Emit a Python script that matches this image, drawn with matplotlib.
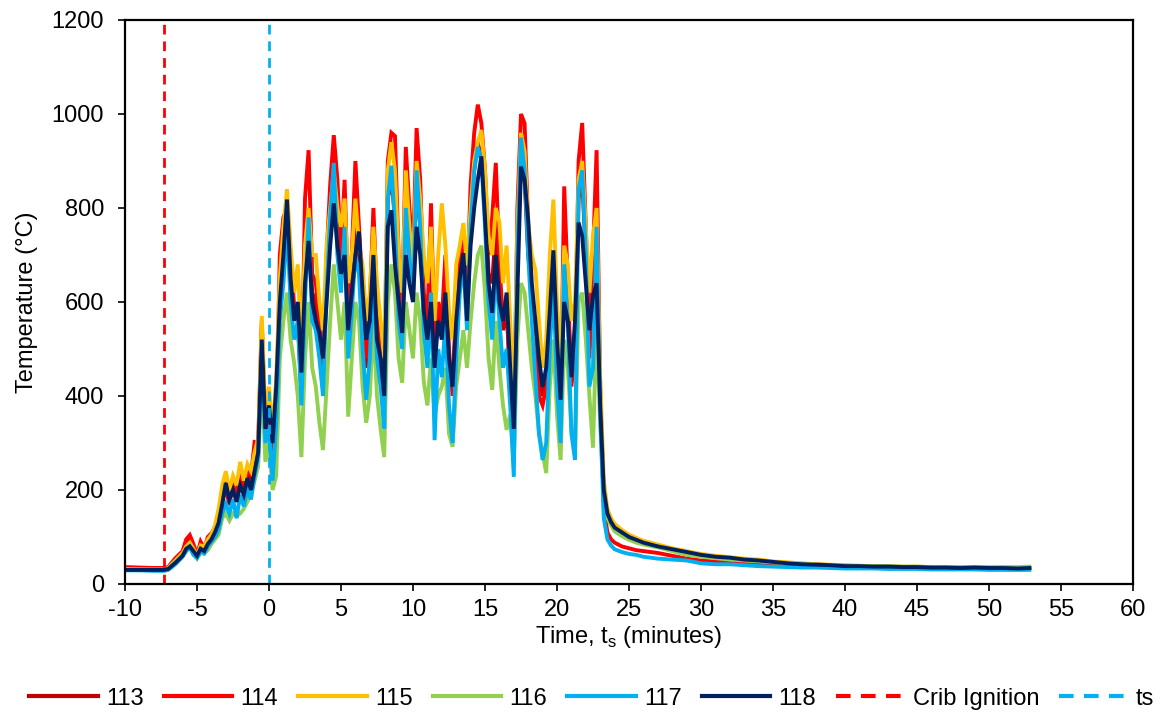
import matplotlib
matplotlib.use("Agg")
import matplotlib.pyplot as plt

plt.rcParams['font.family'] = ['Liberation Sans', 'DejaVu Sans']
plt.rcParams['mathtext.fontset'] = 'custom'
plt.rcParams['mathtext.rm'] = 'Liberation Sans'

# ---- time grid (minutes) ----
time = [
    -10, -9, -8, -7.3, -7, -6.5, -6, -5.75, -5.5,
    -5.25, -5, -4.75, -4.5, -4.25, -4, -3.75, -3.5, -3.25,
    -3, -2.75, -2.5, -2.25, -2, -1.75, -1.5, -1.25, -1,
    -0.75, -0.5, -0.25, 0, 0.25, 0.5, 0.75, 1.0,
    1.25, 1.5, 1.75, 2.0, 2.25, 2.5, 2.75, 3.0,
    3.25, 3.5, 3.75, 4.0, 4.25, 4.5, 4.75, 5.0,
    5.25, 5.5, 5.75, 6.0, 6.25, 6.5, 6.75, 7.0,
    7.25, 7.5, 7.75, 8.0, 8.25, 8.5, 8.75, 9.0,
    9.25, 9.5, 9.75, 10.0, 10.25, 10.5, 10.75, 11.0,
    11.25, 11.5, 11.75, 12.0, 12.25, 12.5, 12.75, 13.0,
    13.25, 13.5, 13.75, 14.0, 14.25, 14.5, 14.75, 15.0,
    15.25, 15.5, 15.75, 16.0, 16.25, 16.5, 16.75, 17.0,
    17.25, 17.5, 17.75, 18.0, 18.25, 18.5, 18.75, 19.0,
    19.25, 19.5, 19.75, 20.0, 20.25, 20.5, 20.75, 21.0,
    21.25, 21.5, 21.75, 22.0, 22.25, 22.5, 22.75, 23.0,
    23.25, 23.5, 23.75, 24, 24.5, 25, 25.5, 26,
    27, 28, 29, 30, 31, 32, 33, 34, 35,
    36, 37, 38, 39, 40, 41, 42, 43, 44,
    45, 46, 47, 48, 49, 50, 51, 52, 52.8,
]

t113 = [
    34, 34, 33, 33, 34, 50, 65, 85, 95,
    78, 60, 82, 72, 92, 100, 115, 135, 175,
    205, 180, 205, 185, 225, 195, 240, 215, 260,
    290, 540, 340, 350, 270, 380, 620, 680,
    790, 640, 580, 580, 430, 700, 760, 620,
    600, 520, 450, 640, 780, 900, 760, 680,
    780, 560, 640, 780, 700, 560, 460, 560,
    720, 560, 460, 380, 820, 860, 780, 640,
    560, 800, 700, 640, 860, 760, 600, 540,
    680, 500, 580, 540, 640, 460, 420, 580,
    660, 720, 600, 780, 880, 940, 900, 820,
    660, 640, 760, 620, 540, 580, 440, 320,
    700, 900, 860, 700, 620, 540, 460, 400,
    440, 580, 680, 500, 380, 700, 600, 430,
    520, 820, 860, 700, 500, 640, 760, 400,
    190, 145, 128, 118, 108, 98, 92, 86,
    80, 72, 66, 62, 58, 54, 52, 50, 47,
    45, 43, 42, 40, 39, 38, 38, 37, 36,
    36, 35, 35, 35, 35, 34, 34, 34, 34,
]

t114 = [
    36, 35, 34, 34, 36, 55, 70, 95, 104,
    85, 62, 90, 75, 100, 108, 120, 140, 183,
    200, 170, 210, 190, 240, 200, 250, 230, 302,
    300, 560, 320, 360, 250, 330, 700, 780,
    800, 700, 590, 560, 400, 820, 923, 660,
    640, 560, 420, 700, 850, 955, 860, 700,
    860, 600, 700, 900, 760, 620, 480, 600,
    800, 600, 500, 420, 900, 960, 953, 700,
    600, 930, 800, 700, 970, 860, 620, 560,
    810, 520, 600, 560, 700, 500, 400, 600,
    700, 740, 620, 850, 960, 1020, 980, 880,
    700, 780, 896, 680, 560, 600, 420, 300,
    800, 1000, 980, 760, 600, 520, 400, 380,
    420, 600, 700, 480, 360, 846, 640, 420,
    500, 900, 981, 760, 480, 700, 923, 420,
    160, 110, 95, 88, 80, 76, 72, 70,
    66, 60, 54, 50, 48, 46, 46, 44, 44,
    42, 42, 40, 39, 38, 37, 37, 36, 36,
    35, 35, 34, 34, 35, 34, 33, 33, 33,
]

t115 = [
    32, 31, 31, 31, 34, 50, 66, 80, 88,
    75, 60, 82, 80, 95, 105, 125, 160, 210,
    240, 200, 230, 210, 260, 220, 255, 240, 280,
    310, 570, 360, 420, 320, 440, 650, 760,
    840, 720, 620, 680, 500, 720, 800, 700,
    700, 600, 540, 720, 800, 880, 800, 760,
    820, 640, 700, 820, 720, 680, 560, 620,
    760, 640, 560, 480, 880, 940, 880, 700,
    620, 880, 760, 680, 900, 820, 700, 640,
    760, 560, 700, 810, 720, 580, 520, 680,
    720, 768, 678, 800, 900, 940, 966, 880,
    740, 700, 800, 770, 640, 720, 560, 380,
    760, 960, 920, 768, 700, 668, 560, 460,
    520, 700, 818, 600, 480, 720, 680, 560,
    600, 860, 900, 760, 620, 740, 800, 440,
    220, 160, 140, 128, 115, 105, 98, 92,
    84, 76, 70, 64, 60, 57, 54, 52, 48,
    46, 44, 42, 41, 40, 39, 38, 38, 37,
    37, 36, 36, 35, 35, 35, 35, 34, 35,
]

t116 = [
    31, 31, 30, 30, 33, 48, 62, 75, 82,
    68, 55, 65, 65, 72, 85, 95, 105, 140,
    150, 135, 150, 145, 150, 160, 175, 190, 220,
    250, 440, 260, 300, 200, 230, 480, 560,
    620, 520, 470, 400, 270, 480, 600, 460,
    420, 343, 285, 420, 560, 680, 600, 520,
    600, 356, 480, 600, 560, 420, 343, 400,
    560, 400, 330, 270, 600, 680, 620, 480,
    428, 600, 540, 480, 620, 560, 430, 380,
    480, 360, 400, 420, 460, 320, 292, 420,
    480, 540, 460, 560, 640, 700, 720, 620,
    480, 413, 560, 460, 380, 328, 360, 260,
    520, 640, 620, 540, 460, 400, 320, 280,
    236, 420, 520, 360, 264, 520, 460, 330,
    280, 600, 620, 520, 400, 290, 560, 340,
    190, 140, 125, 112, 102, 94, 88, 84,
    78, 70, 62, 58, 55, 52, 50, 48, 46,
    44, 42, 41, 40, 39, 38, 38, 38, 37,
    37, 36, 36, 36, 36, 36, 36, 36, 37,
]

t117 = [
    29, 29, 28, 28, 30, 42, 58, 70, 78,
    62, 55, 70, 65, 80, 90, 100, 115, 150,
    170, 150, 180, 140, 190, 165, 200, 180, 230,
    270, 500, 300, 330, 220, 340, 560, 640,
    760, 600, 520, 560, 380, 600, 780, 560,
    540, 480, 400, 620, 780, 896, 700, 620,
    760, 480, 580, 700, 660, 500, 392, 480,
    660, 480, 420, 330, 820, 890, 760, 560,
    500, 800, 700, 600, 880, 760, 540, 460,
    620, 306, 500, 440, 560, 380, 300, 480,
    620, 680, 540, 760, 880, 930, 900, 760,
    600, 520, 680, 560, 460, 500, 380, 228,
    700, 950, 880, 700, 560, 440, 320, 264,
    300, 500, 640, 420, 300, 680, 560, 320,
    264, 840, 880, 700, 420, 460, 760, 360,
    140, 95, 82, 74, 68, 64, 62, 58,
    54, 52, 50, 44, 42, 42, 40, 38, 37,
    36, 35, 35, 34, 33, 33, 33, 32, 32,
    32, 31, 31, 31, 31, 30, 30, 30, 30,
]

t118 = [
    30, 30, 30, 30, 32, 45, 60, 75, 80,
    70, 60, 75, 70, 85, 95, 110, 130, 170,
    215, 180, 200, 175, 210, 190, 225, 200, 240,
    280, 520, 330, 380, 300, 420, 600, 700,
    818, 650, 560, 600, 450, 640, 730, 600,
    560, 534, 480, 600, 720, 810, 720, 660,
    700, 540, 620, 700, 750, 620, 520, 560,
    700, 520, 480, 400, 760, 795, 680, 600,
    534, 700, 640, 600, 760, 700, 580, 520,
    600, 460, 560, 520, 620, 480, 420, 560,
    650, 704, 560, 720, 800, 860, 910, 780,
    640, 577, 700, 600, 560, 620, 460, 330,
    620, 888, 860, 775, 640, 560, 480, 420,
    460, 580, 710, 520, 392, 600, 560, 440,
    560, 769, 740, 640, 540, 612, 640, 380,
    200, 150, 132, 120, 110, 100, 94, 88,
    80, 74, 68, 62, 58, 56, 52, 50, 47,
    44, 42, 41, 40, 38, 38, 37, 37, 36,
    36, 35, 35, 34, 35, 34, 34, 33, 34,
]

series_names = ["113", "114", "115", "116", "117", "118"]
series_data = [t113, t114, t115, t116, t117, t118]
series_colors = ["#C00000", "#FF0000", "#FFC000", "#92D050", "#00B0F0", "#002060"]

crib_ignition_time = -7.3
ts_time = 0.0

x_ticks = [-10, -5, 0, 5, 10, 15, 20, 25, 30, 35, 40, 45, 50, 55, 60]
y_ticks = [0, 200, 400, 600, 800, 1000, 1200]

fig = plt.figure(figsize=(11.72, 7.13), dpi=100)
ax = fig.add_axes([125/1172, 1 - 584/713, (1133 - 125)/1172, (584 - 20)/713])

for name, vals, col in zip(series_names, series_data, series_colors):
    ax.plot(time, vals, color=col, lw=2.8, label=name, solid_joinstyle='miter')

ax.axvline(crib_ignition_time, color="#FF0000", lw=2.0, ls=(0, (3.5, 2.5)), label="Crib Ignition")
ax.axvline(ts_time, color="#00B0F0", lw=2.0, ls=(0, (3.5, 2.5)), label="ts")

ax.set_xlim(-10, 60)
ax.set_ylim(0, 1200)
ax.set_xticks(x_ticks)
ax.set_xticklabels([str(v) for v in x_ticks])
ax.set_yticks(y_ticks)
ax.set_yticklabels([str(v) for v in y_ticks])

for s in ax.spines.values():
    s.set_linewidth(1.6)
    s.set_color("black")
ax.tick_params(axis='both', direction='out', length=5, width=1.2, labelsize=17, colors='black')
ax.tick_params(axis='x', pad=6)
ax.tick_params(axis='y', pad=10)

ax.set_xlabel("Time, t$_\\mathregular{s}$ (minutes)", fontsize=17, labelpad=2)
ax.set_ylabel("Temperature (°C)", fontsize=17, labelpad=10)

handles, labels = ax.get_legend_handles_labels()
leg = fig.legend(handles, labels, loc='lower center', bbox_to_anchor=(0.505, -0.025), ncol=8,
                 frameon=False, fontsize=17, handlelength=2.9, handletextpad=0.35,
                 columnspacing=0.85)
for h in leg.get_lines():
    h.set_linewidth(3.0)

fig.savefig("out.png", dpi=100)
